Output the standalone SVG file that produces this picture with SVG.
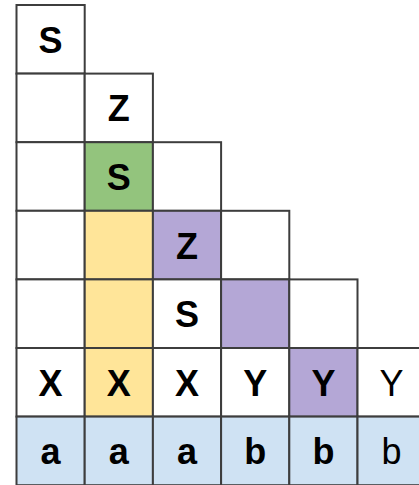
<svg xmlns="http://www.w3.org/2000/svg" width="419" height="485" viewBox="0 0 419 485">
<style>
rect{stroke:#3d3d3d;stroke-width:2;fill:#ffffff}
.g{fill:#93c47d}.y{fill:#ffe599}.p{fill:#b4a7d6}.b{fill:#cfe2f3}
text{font-family:"Liberation Sans",Arial,sans-serif;font-size:36px;font-weight:bold;text-anchor:middle;fill:#000}
text.n{font-weight:normal}
</style>
<rect x="0" y="0" width="419" height="485" style="stroke:none;fill:#fff"/>
<g id="r0c0"><rect x="16.5" y="5" width="68.2" height="68.6"/><text x="50.6" y="52.8">S</text></g>
<g id="r1c0"><rect x="16.5" y="73.6" width="68.2" height="68.6"/></g>
<g id="r1c1"><rect x="84.7" y="73.6" width="68.2" height="68.6"/><text x="118.8" y="121.4">Z</text></g>
<g id="r2c0"><rect x="16.5" y="142.2" width="68.2" height="68.6"/></g>
<g id="r2c1"><rect class="g" x="84.7" y="142.2" width="68.2" height="68.6"/><text x="118.8" y="190">S</text></g>
<g id="r2c2"><rect x="152.9" y="142.2" width="68.2" height="68.6"/></g>
<g id="r3c0"><rect x="16.5" y="210.8" width="68.2" height="68.6"/></g>
<g id="r3c1"><rect class="y" x="84.7" y="210.8" width="68.2" height="68.6"/></g>
<g id="r3c2"><rect class="p" x="152.9" y="210.8" width="68.2" height="68.6"/><text x="187" y="258.6">Z</text></g>
<g id="r3c3"><rect x="221.1" y="210.8" width="68.2" height="68.6"/></g>
<g id="r4c0"><rect x="16.5" y="279.4" width="68.2" height="68.6"/></g>
<g id="r4c1"><rect class="y" x="84.7" y="279.4" width="68.2" height="68.6"/></g>
<g id="r4c2"><rect x="152.9" y="279.4" width="68.2" height="68.6"/><text x="187" y="327.2">S</text></g>
<g id="r4c3"><rect class="p" x="221.1" y="279.4" width="68.2" height="68.6"/></g>
<g id="r4c4"><rect x="289.3" y="279.4" width="68.2" height="68.6"/></g>
<g id="r5c0"><rect x="16.5" y="348" width="68.2" height="68.6"/><text x="50.6" y="395.8">X</text></g>
<g id="r5c1"><rect class="y" x="84.7" y="348" width="68.2" height="68.6"/><text x="118.8" y="395.8">X</text></g>
<g id="r5c2"><rect x="152.9" y="348" width="68.2" height="68.6"/><text x="187" y="395.8">X</text></g>
<g id="r5c3"><rect x="221.1" y="348" width="68.2" height="68.6"/><text x="255.2" y="395.8">Y</text></g>
<g id="r5c4"><rect class="p" x="289.3" y="348" width="68.2" height="68.6"/><text x="323.4" y="395.8">Y</text></g>
<g id="r5c5"><rect x="357.5" y="348" width="68.2" height="68.6"/><text class="n" x="391.6" y="395.8">Y</text></g>
<g id="r6c0"><rect class="b" x="16.5" y="416.6" width="68.2" height="68.6"/><text x="50.6" y="464.4">a</text></g>
<g id="r6c1"><rect class="b" x="84.7" y="416.6" width="68.2" height="68.6"/><text x="118.8" y="464.4">a</text></g>
<g id="r6c2"><rect class="b" x="152.9" y="416.6" width="68.2" height="68.6"/><text x="187" y="464.4">a</text></g>
<g id="r6c3"><rect class="b" x="221.1" y="416.6" width="68.2" height="68.6"/><text x="255.2" y="464.4">b</text></g>
<g id="r6c4"><rect class="b" x="289.3" y="416.6" width="68.2" height="68.6"/><text x="323.4" y="464.4">b</text></g>
<g id="r6c5"><rect class="b" x="357.5" y="416.6" width="68.2" height="68.6"/><text class="n" x="391.6" y="464.4">b</text></g>
</svg>
